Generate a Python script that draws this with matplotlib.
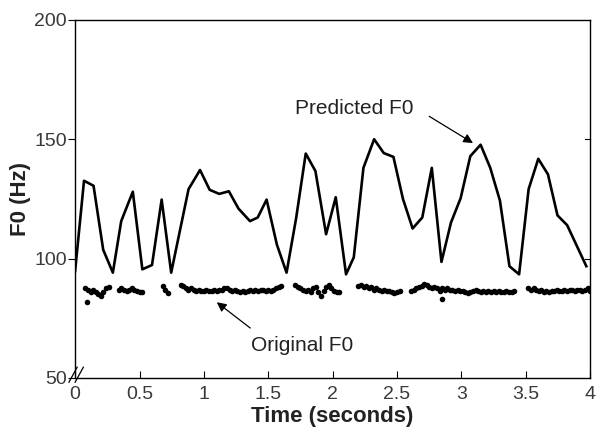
import numpy as np
import matplotlib
matplotlib.use("Agg")
from matplotlib import pyplot as plt

plt.rcParams["font.family"] = ["Liberation Sans", "DejaVu Sans"]

# predicted F0 contour (one vertex per frame)
pred_t = [0.0, 0.069, 0.143, 0.218, 0.293, 0.358, 0.448, 0.522, 0.597, 0.672,
          0.746, 0.815, 0.881, 0.970, 1.045, 1.119, 1.194, 1.269, 1.358, 1.418,
          1.487, 1.567, 1.642, 1.716, 1.791, 1.866, 1.949, 2.024, 2.104, 2.164,
          2.239, 2.322, 2.397, 2.472, 2.546, 2.621, 2.696, 2.770, 2.845, 2.919,
          2.994, 3.069, 3.149, 3.224, 3.299, 3.373, 3.448, 3.522, 3.597, 3.672,
          3.746, 3.821, 3.970]
pred_f0 = [94.8, 132.6, 130.5, 103.7, 94.1, 115.7, 128.0, 95.5, 97.3, 124.7,
           94.1, 112.0, 129.1, 137.1, 128.8, 127.1, 128.2, 120.9, 115.7, 117.2,
           124.7, 105.8, 94.1, 116.8, 144.0, 136.7, 110.2, 125.7, 93.4, 100.5,
           138.0, 150.0, 144.2, 142.6, 125.0, 112.6, 117.2, 138.0, 98.6, 115.1,
           125.3, 142.9, 147.7, 138.0, 124.3, 96.8, 93.4, 129.1, 141.8, 135.3,
           118.1, 114.0, 96.8]

# original F0: voiced segments, (start time, values every 20 ms)
orig_segments = [
    (0.08, [87.5, 87.0, 86.0, 87.0, 86.0, 85.0, 84.5, 86.0, 87.5, 88.0]),
    (0.34, [87.0, 87.5, 87.0, 86.5, 87.0, 87.5, 87.0, 86.5, 86.0, 86.0]),
    (0.68, [88.5, 87.0, 85.5]),
    (0.82, [89.0, 88.5, 87.5, 87.0, 87.5, 87.0, 86.5, 87.0, 86.5, 86.5,
            87.0, 86.5, 86.5, 87.0, 86.5, 87.0, 87.0, 87.5, 87.5, 87.0,
            86.5, 87.0, 86.5, 86.0, 86.5, 86.0, 86.5, 87.0, 86.5, 87.0,
            86.5, 87.0, 87.0, 86.5, 87.0, 86.5, 87.0, 87.5, 88.0, 88.5]),
    (1.71, [89.0, 88.0, 87.5, 87.0, 86.5, 87.0, 86.0, 87.5, 88.0, 86.0,
            84.5, 86.5, 88.0, 89.0, 87.5, 86.5, 86.0, 86.0]),
    (2.20, [88.5, 89.0, 88.0, 88.5, 87.5, 88.0, 87.0, 87.5, 87.0, 86.5,
            87.0, 86.5, 86.5, 86.0, 85.5, 86.0, 86.5]),
    (2.61, [86.5, 87.0, 87.5, 88.0, 88.5, 89.5, 89.0, 88.0, 87.5, 88.0,
            87.5, 86.5, 87.5, 87.0, 87.5, 87.0, 87.0, 86.5, 87.0, 86.5,
            86.5, 86.0, 85.5, 86.0, 86.5, 87.0, 86.5, 86.0, 86.5, 86.0,
            86.5, 86.0, 86.5, 86.0, 86.5, 86.0, 86.0, 86.5, 86.0, 86.0, 86.5]),
    (3.52, [87.5, 87.0, 87.5, 87.0, 86.5, 87.0, 86.0, 86.5, 86.0, 86.5,
            86.5, 87.0, 86.5, 86.5, 87.0, 86.5, 87.0, 87.0, 86.5, 87.0,
            87.0, 86.5, 87.0, 87.5, 86.5]),
]
outlier_t = [0.09, 2.85]
outlier_f0 = [82.0, 83.0]

fig = plt.figure(figsize=(6.01, 4.42), dpi=100)
ax = fig.add_axes([0.125, 0.145, 0.857, 0.81])

ax.plot(pred_t, pred_f0, color="black", linewidth=1.9)
for start, vals in orig_segments:
    t = start + 0.02 * np.arange(len(vals))
    ax.plot(t, vals, linestyle="none", marker="o", markersize=4.0,
            color="black", markeredgewidth=0)
ax.plot(outlier_t, outlier_f0, linestyle="none", marker="o", markersize=4.0,
        color="black", markeredgewidth=0)

ax.set_xlim(0, 4)
ax.set_ylim(50, 200)
ax.set_xticks([0, 0.5, 1, 1.5, 2, 2.5, 3, 3.5, 4])
ax.set_xticklabels(["0", "0.5", "1", "1.5", "2", "2.5", "3", "3.5", "4"])
ax.set_yticks([50, 100, 150, 200])

ax.tick_params(axis="x", direction="in", length=5, labelsize=14,
               labelcolor="#3a3a3a", pad=6, top=False)
ax.tick_params(axis="y", direction="out", length=5, labelsize=14,
               labelcolor="#3a3a3a", pad=1)
for tick in [100, 150]:
    ax.plot([4, 3.96], [tick, tick], color="black", linewidth=0.8, clip_on=False)
for sp in ax.spines.values():
    sp.set_linewidth(1.0)

ax.set_xlabel("Time (seconds)", fontsize=16, fontweight="bold", labelpad=2,
              color="#222222")
ax.set_ylabel("F0 (Hz)", fontsize=16, fontweight="bold", labelpad=2,
              color="#222222")

# axis break mark
for off in [0.0, 0.012]:
    ax.plot([-0.012 + off, 0.004 + off], [-0.012, 0.03], transform=ax.transAxes,
            color="black", linewidth=0.9, clip_on=False)

ax.text(2.17, 163, "Predicted F0", fontsize=15, ha="center", va="center",
        color="#222222")
ax.annotate("", xy=(3.09, 148.4), xytext=(2.75, 159.6),
            arrowprops=dict(arrowstyle="-|>", color="black", lw=0.9,
                            shrinkA=0, shrinkB=0, mutation_scale=14))
ax.text(1.76, 63.5, "Original F0", fontsize=15, ha="center", va="center",
        color="#222222")
ax.annotate("", xy=(1.10, 81.7), xytext=(1.36, 70.9),
            arrowprops=dict(arrowstyle="-|>", color="black", lw=0.9,
                            shrinkA=0, shrinkB=0, mutation_scale=14))

plt.savefig("out.png", dpi=100)
